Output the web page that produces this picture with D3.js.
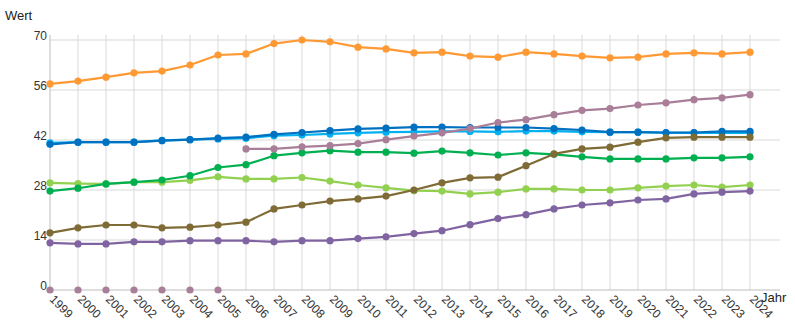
<!DOCTYPE html>
<html><head><meta charset="utf-8">
<script src="https://cdn.jsdelivr.net/npm/d3@7"></script>
<style>
html,body{margin:0;padding:0;background:#fff;}
svg{display:block;font-family:"Liberation Sans",Arial,sans-serif;}
</style></head>
<body>
<svg id="chart" width="795" height="331"></svg>
<script>
const years = d3.range(1999, 2025);
const yTicks = [0, 14, 28, 42, 56, 70];

const orange     = [57.7,58.5,59.6,60.8,61.3,63.0,65.8,66.1,69.0,70.0,69.5,68.0,67.5,66.4,66.6,65.5,65.2,66.6,66.1,65.5,65.0,65.2,66.1,66.4,66.1,66.6];
const lightBlue  = [41.2,41.4,41.4,41.4,41.9,42.1,42.3,42.5,43.2,43.4,43.7,44.0,44.2,44.3,44.4,44.4,44.3,44.5,44.5,44.3,44.2,44.2,44.0,44.0,44.0,44.0];
const darkBlue   = [40.8,41.4,41.4,41.4,41.8,42.1,42.5,42.8,43.6,44.1,44.6,45.1,45.3,45.6,45.6,45.5,45.5,45.5,45.2,44.8,44.2,44.2,44.1,44.1,44.4,44.4];
const lightGreen = [30.0,29.8,29.7,30.2,30.2,30.7,31.7,31.1,31.1,31.5,30.5,29.4,28.6,27.8,27.7,26.9,27.4,28.3,28.3,28.0,28.0,28.6,29.1,29.4,28.8,29.4];
const green      = [27.7,28.5,29.7,30.2,30.8,32.0,34.3,35.1,37.6,38.4,39.0,38.6,38.6,38.3,38.9,38.4,37.8,38.4,38.0,37.3,36.7,36.7,36.7,37.0,37.0,37.3];
const olive      = [16.0,17.4,18.2,18.2,17.4,17.6,18.2,19.0,22.7,23.8,24.9,25.5,26.3,28.0,30.0,31.4,31.6,34.8,38.1,39.5,40.0,41.4,42.6,42.8,42.8,42.8];
const mauve      = [null,null,null,null,null,null,null,39.5,39.5,40.1,40.4,41.0,42.1,43.1,44.0,45.2,46.9,47.7,49.1,50.3,50.8,51.8,52.4,53.3,53.8,54.7];
const purple     = [13.2,12.9,12.9,13.5,13.5,13.8,13.8,13.8,13.5,13.8,13.8,14.4,14.9,15.8,16.6,18.3,20.0,21.1,22.7,23.8,24.4,25.2,25.5,26.9,27.4,27.7];

const series = [
  {values: orange, color: "#ff9933"},
  {values: lightBlue, color: "#00b0f0"},
  {values: darkBlue, color: "#0070c0"},
  {values: lightGreen, color: "#92d050"},
  {values: green, color: "#00b050"},
  {values: olive, color: "#7f6b35"},
  {values: mauve, color: "#a97e98"},
  {values: purple, color: "#8064a2"}
];

const svg = d3.select("#chart");
const x = d3.scaleLinear().domain([1999, 2024]).range([50, 750]);
const y = d3.scaleLinear().domain([0, 70]).range([290, 40]);
const xRight = 780, yTop = 35;

// grid
const g = svg.append("g");
g.selectAll(".hg").data(yTicks.filter(d => d > 0)).join("line")
  .attr("x1", x(1999)).attr("x2", xRight)
  .attr("y1", d => y(d)).attr("y2", d => y(d))
  .attr("stroke", "#d9d9d9").attr("stroke-width", 1);
g.selectAll(".vg").data(years.slice(1)).join("line")
  .attr("x1", d => x(d)).attr("x2", d => x(d))
  .attr("y1", yTop).attr("y2", y(0))
  .attr("stroke", "#d9d9d9").attr("stroke-width", 1);
// axes lines
g.append("line").attr("x1", x(1999)).attr("x2", x(1999)).attr("y1", yTop).attr("y2", y(0)).attr("stroke", "#bdbdbd");
g.append("line").attr("x1", x(1999)).attr("x2", xRight).attr("y1", y(0)).attr("y2", y(0)).attr("stroke", "#bdbdbd");

// y labels
svg.selectAll(".yl").data(yTicks).join("text")
  .attr("x", 47).attr("y", d => y(d))
  .attr("text-anchor", "end").attr("font-size", 12).attr("fill", "#333")
  .text(d => d);
// x labels
svg.selectAll(".xl").data(years).join("text")
  .attr("transform", d => `translate(${x(d) - 1},${y(0) + 10}) rotate(45)`)
  .attr("font-size", 12).attr("fill", "#333")
  .text(d => d);
svg.append("text").attr("x", 5).attr("y", 20).attr("font-size", 13).attr("fill", "#222").text("Wert");
svg.append("text").attr("x", 761).attr("y", 302).attr("font-size", 13).attr("fill", "#222").text("Jahr");

// series
const line = d3.line().defined(d => d.v != null).x(d => x(d.year)).y(d => y(d.v));
series.forEach(s => {
  const pts = years.map((yr, i) => ({year: yr, v: s.values[i]}));
  svg.append("path").datum(pts)
    .attr("fill", "none").attr("stroke", s.color).attr("stroke-width", 2.2)
    .attr("stroke-linejoin", "round").attr("d", line);
  svg.append("g").selectAll("circle").data(pts).join("circle")
    .attr("cx", d => x(d.year)).attr("cy", d => y(d.v == null ? 0 : d.v))
    .attr("r", 3.6).attr("fill", s.color);
});
</script>
</body></html>
